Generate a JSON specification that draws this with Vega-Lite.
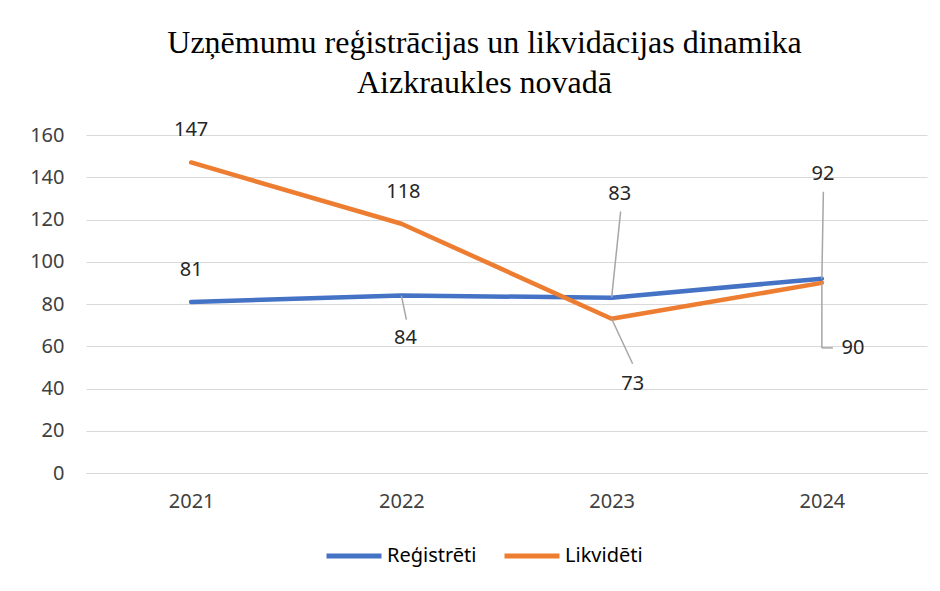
{
  "$schema": "https://vega.github.io/schema/vega-lite/v6.json",
  "width": 841,
  "height": 338,
  "autosize": {"type": "none"},
  "padding": {"left": 86, "top": 135, "right": 13, "bottom": 118},
  "background": "white",
  "title": {
    "text": ["Uzņēmumu reģistrācijas un likvidācijas dinamika", "Aizkraukles novadā"],
    "font": "Liberation Serif",
    "fontSize": 32,
    "fontWeight": "normal",
    "color": "#000000",
    "lineHeight": 40,
    "anchor": "middle",
    "frame": "group",
    "dx": -22,
    "offset": 20
  },
  "data": {
    "values": [
      {"year": "2021", "series": "Reģistrēti", "value": 81},
      {"year": "2022", "series": "Reģistrēti", "value": 84},
      {"year": "2023", "series": "Reģistrēti", "value": 83},
      {"year": "2024", "series": "Reģistrēti", "value": 92},
      {"year": "2021", "series": "Likvidēti", "value": 147},
      {"year": "2022", "series": "Likvidēti", "value": 118},
      {"year": "2023", "series": "Likvidēti", "value": 73},
      {"year": "2024", "series": "Likvidēti", "value": 90}
    ]
  },
  "encoding": {
    "x": {
      "field": "year",
      "type": "ordinal",
      "scale": {"type": "point", "padding": 0.5},
      "axis": {
        "title": null,
        "labelAngle": 0,
        "labelFont": "Noto Sans",
        "labelFontSize": 20,
        "labelColor": "#404040",
        "labelPadding": 18,
        "ticks": false,
        "domainColor": "#d9d9d9",
        "grid": false
      }
    },
    "y": {
      "field": "value",
      "type": "quantitative",
      "scale": {"domain": [0, 160], "nice": false},
      "axis": {
        "title": null,
        "values": [0, 20, 40, 60, 80, 100, 120, 140, 160],
        "labelFont": "Noto Sans",
        "labelFontSize": 20,
        "labelColor": "#404040",
        "labelPadding": 22,
        "ticks": false,
        "domain": false,
        "gridColor": "#d9d9d9",
        "gridWidth": 1
      }
    }
  },
  "layer": [
    {
      "mark": {"type": "line", "strokeWidth": 4.5, "strokeCap": "round", "strokeJoin": "round"},
      "encoding": {
        "color": {
          "field": "series",
          "type": "nominal",
          "scale": {"domain": ["Reģistrēti", "Likvidēti"], "range": ["#4472C4", "#ED7D31"]},
          "legend": {
            "title": null,
            "orient": "none",
            "direction": "horizontal",
            "legendX": 238,
            "legendY": 391,
            "symbolType": "stroke",
            "symbolSize": 3025,
            "symbolStrokeWidth": 5,
            "labelFont": "Noto Sans",
            "labelFontSize": 20,
            "labelColor": "#000000",
            "labelOffset": 3,
            "columnPadding": 17,
            "labelLimit": 200
          }
        }
      }
    },
    {
      "transform": [{"filter": "(datum.series == 'Reģistrēti' && datum.year == '2022')"}],
      "mark": {"type": "rule", "color": "#a6a6a6", "strokeWidth": 1.5, "x2Offset": 5, "y2Offset": 24},
      "encoding": {"x2": {"field": "year"}, "y2": {"field": "value"}}
    },
    {
      "transform": [{"filter": "(datum.series == 'Reģistrēti' && datum.year == '2023')"}],
      "mark": {"type": "rule", "color": "#a6a6a6", "strokeWidth": 1.5, "x2Offset": 9, "y2Offset": -86},
      "encoding": {"x2": {"field": "year"}, "y2": {"field": "value"}}
    },
    {
      "transform": [{"filter": "(datum.series == 'Reģistrēti' && datum.year == '2024')"}],
      "mark": {"type": "rule", "color": "#a6a6a6", "strokeWidth": 1.5, "x2Offset": 1.5, "y2Offset": -87},
      "encoding": {"x2": {"field": "year"}, "y2": {"field": "value"}}
    },
    {
      "transform": [{"filter": "(datum.series == 'Likvidēti' && datum.year == '2023')"}],
      "mark": {"type": "rule", "color": "#a6a6a6", "strokeWidth": 1.5, "x2Offset": 21, "y2Offset": 45},
      "encoding": {"x2": {"field": "year"}, "y2": {"field": "value"}}
    },
    {
      "transform": [{"filter": "(datum.series == 'Likvidēti' && datum.year == '2024')"}],
      "mark": {"type": "rule", "color": "#a6a6a6", "strokeWidth": 1.5, "x2Offset": 0, "y2Offset": 65},
      "encoding": {"x2": {"field": "year"}, "y2": {"field": "value"}}
    },
    {
      "transform": [{"filter": "(datum.series == 'Likvidēti' && datum.year == '2024')"}],
      "mark": {"type": "rule", "color": "#a6a6a6", "strokeWidth": 1.5, "yOffset": 65, "x2Offset": 11, "y2Offset": 65},
      "encoding": {"x2": {"field": "year"}, "y2": {"field": "value"}}
    },
    {
      "transform": [{"filter": "(datum.year == '2021')"}],
      "mark": {"type": "text", "font": "Noto Sans", "fontSize": 20, "color": "#262626", "dy": -32},
      "encoding": {"text": {"field": "value"}}
    },
    {
      "transform": [{"filter": "(datum.series == 'Reģistrēti' && datum.year == '2022')"}],
      "mark": {"type": "text", "font": "Noto Sans", "fontSize": 20, "color": "#262626", "dx": 4, "dy": 42},
      "encoding": {"text": {"field": "value"}}
    },
    {
      "transform": [{"filter": "(datum.series == 'Reģistrēti' && datum.year == '2023')"}],
      "mark": {"type": "text", "font": "Noto Sans", "fontSize": 20, "color": "#262626", "dx": 8, "dy": -104},
      "encoding": {"text": {"field": "value"}}
    },
    {
      "transform": [{"filter": "(datum.series == 'Reģistrēti' && datum.year == '2024')"}],
      "mark": {"type": "text", "font": "Noto Sans", "fontSize": 20, "color": "#262626", "dx": 1, "dy": -105},
      "encoding": {"text": {"field": "value"}}
    },
    {
      "transform": [{"filter": "(datum.series == 'Likvidēti' && datum.year == '2022')"}],
      "mark": {"type": "text", "font": "Noto Sans", "fontSize": 20, "color": "#262626", "dx": 2, "dy": -32},
      "encoding": {"text": {"field": "value"}}
    },
    {
      "transform": [{"filter": "(datum.series == 'Likvidēti' && datum.year == '2023')"}],
      "mark": {"type": "text", "font": "Noto Sans", "fontSize": 20, "color": "#262626", "dx": 21, "dy": 65},
      "encoding": {"text": {"field": "value"}}
    },
    {
      "transform": [{"filter": "(datum.series == 'Likvidēti' && datum.year == '2024')"}],
      "mark": {"type": "text", "font": "Noto Sans", "fontSize": 20, "color": "#262626", "dx": 31, "dy": 65},
      "encoding": {"text": {"field": "value"}}
    }
  ],
  "config": {
    "view": {"stroke": null}
  }
}
